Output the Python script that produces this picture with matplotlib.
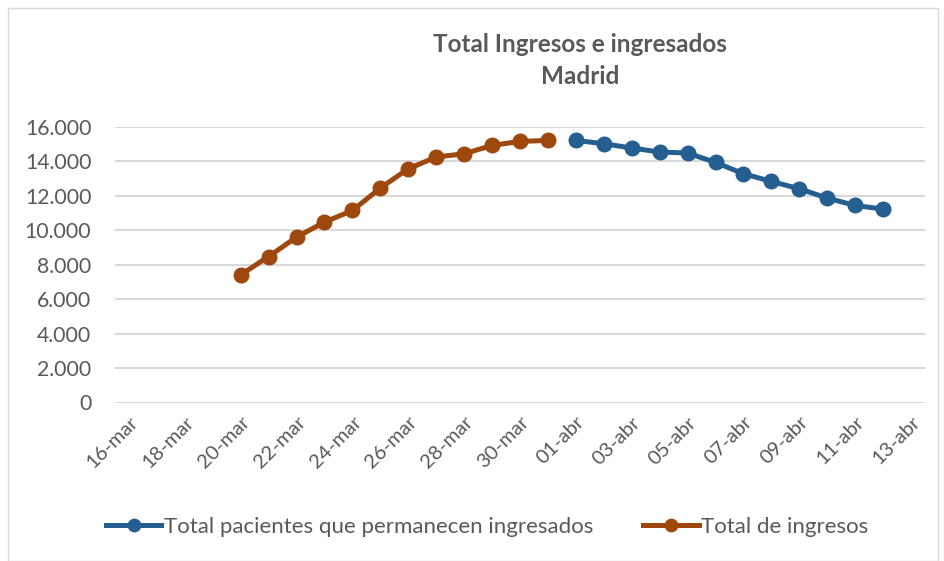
import pandas as pd
import matplotlib.pyplot as plt
import matplotlib.dates as mdates
from matplotlib.patches import Rectangle

# Data
ingresos_dates = ['2020-03-20', '2020-03-21', '2020-03-22', '2020-03-23', '2020-03-24', '2020-03-25',
                  '2020-03-26', '2020-03-27', '2020-03-28', '2020-03-29', '2020-03-30', '2020-03-31']
ingresos_values = [7413, 8477, 9605, 10477, 11151, 12453, 13576, 14256, 14448, 14930, 15163, 15221]

ingresados_dates = ['2020-04-01', '2020-04-02', '2020-04-03', '2020-04-04', '2020-04-05', '2020-04-06',
                    '2020-04-07', '2020-04-08', '2020-04-09', '2020-04-10', '2020-04-11', '2020-04-12']
ingresados_values = [15221, 15029, 14779, 14547, 14488, 13942, 13285, 12837, 12413, 11872, 11442, 11233]

tick_dates = ['2020-03-16', '2020-03-18', '2020-03-20', '2020-03-22', '2020-03-24', '2020-03-26',
              '2020-03-28', '2020-03-30', '2020-04-01', '2020-04-03', '2020-04-05', '2020-04-07',
              '2020-04-09', '2020-04-11', '2020-04-13']
tick_labels = ['16-mar', '18-mar', '20-mar', '22-mar', '24-mar', '26-mar', '28-mar', '30-mar',
               '01-abr', '03-abr', '05-abr', '07-abr', '09-abr', '11-abr', '13-abr']
y_ticks = [0, 2000, 4000, 6000, 8000, 10000, 12000, 14000, 16000]

blue = '#255E91'
orange = '#9E480E'
text_color = '#595959'
grid_color = '#D9D9D9'

plt.rcParams['font.family'] = ['Lato', 'DejaVu Sans']

fig = plt.figure(figsize=(9.44, 5.61), dpi=100)
ax = fig.add_axes([115 / 944, 1 - 402.5 / 561, 810 / 944, 275.5 / 561])

# chart border
fig.patches.append(Rectangle((8 / 944, 0), 930 / 944, 0.985, transform=fig.transFigure,
                             fill=False, edgecolor='#D9D9D9', linewidth=1))

x_ing = pd.to_datetime(ingresos_dates)
x_ins = pd.to_datetime(ingresados_dates)

ax.plot(x_ins, ingresados_values, color=blue, linewidth=3.6, marker='o', markersize=10.5,
        label='Total pacientes que permanecen ingresados', zorder=3)
ax.plot(x_ing, ingresos_values, color=orange, linewidth=3.6, marker='o', markersize=10.5,
        label='Total de ingresos', zorder=3)

ticks = pd.to_datetime(tick_dates)
ax.set_xticks(ticks)
ax.set_xticklabels(tick_labels, rotation=45, ha='right', rotation_mode='anchor',
                   fontsize=14.5, color=text_color)
ax.set_xlim(mdates.date2num(ticks[0]) - 0.5, mdates.date2num(ticks[-1]) + 0.5)

ax.set_ylim(0, 16000)
ax.set_yticks(y_ticks)
ax.set_yticklabels([f'{v:,}'.replace(',', '.') for v in y_ticks], fontsize=15.3, color=text_color)

ax.grid(axis='y', color=grid_color, linewidth=1.5)
ax.set_axisbelow(True)
for s in ['top', 'right', 'left', 'bottom']:
    ax.spines[s].set_visible(False)
ax.tick_params(axis='both', length=0)
ax.tick_params(axis='y', pad=17)
ax.tick_params(axis='x', pad=8)

fig.text(580 / 944, 1 - 44 / 561, 'Total Ingresos e ingresados', ha='center', va='center',
         fontsize=17.5, fontweight='bold', color=text_color)
fig.text(580 / 944, 1 - 76 / 561, 'Madrid', ha='center', va='center',
         fontsize=17.5, fontweight='bold', color=text_color)

fig.legend(loc='center', bbox_to_anchor=(487 / 944, 1 - 527 / 561), ncol=2, frameon=False,
           fontsize=16, labelcolor=text_color, handlelength=2.5, handletextpad=0.1,
           columnspacing=2.25, markerscale=0.85)

fig.savefig('out.png', dpi=100)
